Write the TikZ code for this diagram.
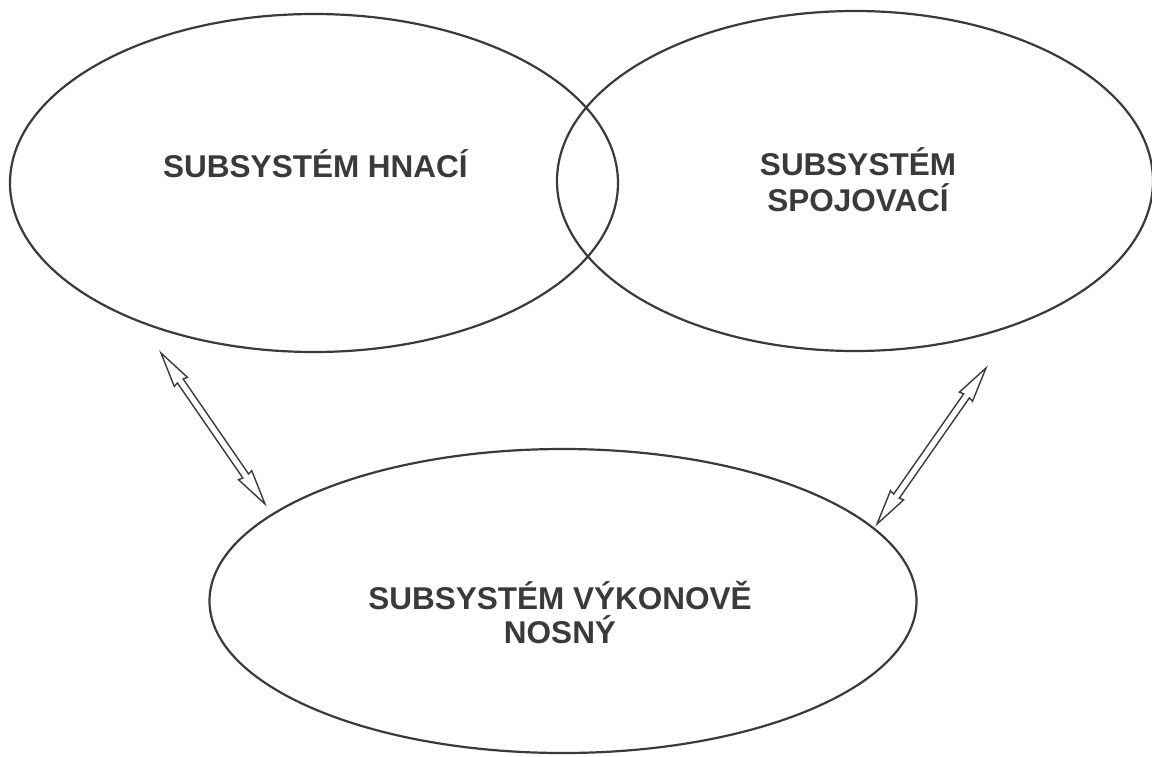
\documentclass[tikz,border=0pt]{standalone}
\usepackage{fontspec}
\setmainfont{Liberation Sans}
\usetikzlibrary{shapes.geometric,calc}
\definecolor{ink}{HTML}{3A3A3A}
\newcommand\hollowarrow[2]{%
  \draw[arrowline] (#1) -- ($(#1)!35pt!(#2)!8pt!90:(#2)$) -- ($(#1)!34pt!(#2)!3.5pt!90:(#2)$)
   -- ($(#2)!34pt!(#1)!3.5pt!-90:(#1)$) -- ($(#2)!35pt!(#1)!8pt!-90:(#1)$) -- (#2)
   -- ($(#2)!35pt!(#1)!8pt!90:(#1)$) -- ($(#2)!34pt!(#1)!3.5pt!90:(#1)$)
   -- ($(#1)!34pt!(#2)!3.5pt!-90:(#2)$) -- ($(#1)!35pt!(#2)!8pt!-90:(#2)$) -- cycle;}
\tikzset{
  sys/.style={ellipse, draw=ink, line width=2.2pt, inner sep=0pt},
  lbl/.style={text=ink, font=\bfseries\fontsize{31.5}{35}\selectfont, anchor=base, inner sep=0pt},
  arrowline/.style={draw=ink, line width=1.4pt, line join=miter}
}
\begin{document}
\begin{tikzpicture}[x=1pt,y=-1pt]
\useasboundingbox (0,0) rectangle (1152,756);
\node[sys, minimum width=608pt, minimum height=338pt] (hnaci) at (314,183) {};
\node[sys, minimum width=596pt, minimum height=340pt] (spoj) at (855,181) {};
\node[sys, minimum width=707pt, minimum height=304pt] (nosny) at (563,601) {};
\node[lbl] (thnaci) at (315.5,177) {SUBSYSTÉM HNACÍ};
\node[lbl] (tspoj1) at (858,175) {SUBSYSTÉM};
\node[lbl] (tspoj2) at (858,211) {SPOJOVACÍ};
\node[lbl] (tnosny1) at (560,609) {SUBSYSTÉM VÝKONOVĚ};
\node[lbl] (tnosny2) at (560,643) {NOSNÝ};
\coordinate (a1) at (161,353);
\coordinate (a2) at (265,504);
\coordinate (b1) at (986,368);
\coordinate (b2) at (877,524);
\hollowarrow{a1}{a2}
\hollowarrow{b1}{b2}
\end{tikzpicture}
\end{document}
